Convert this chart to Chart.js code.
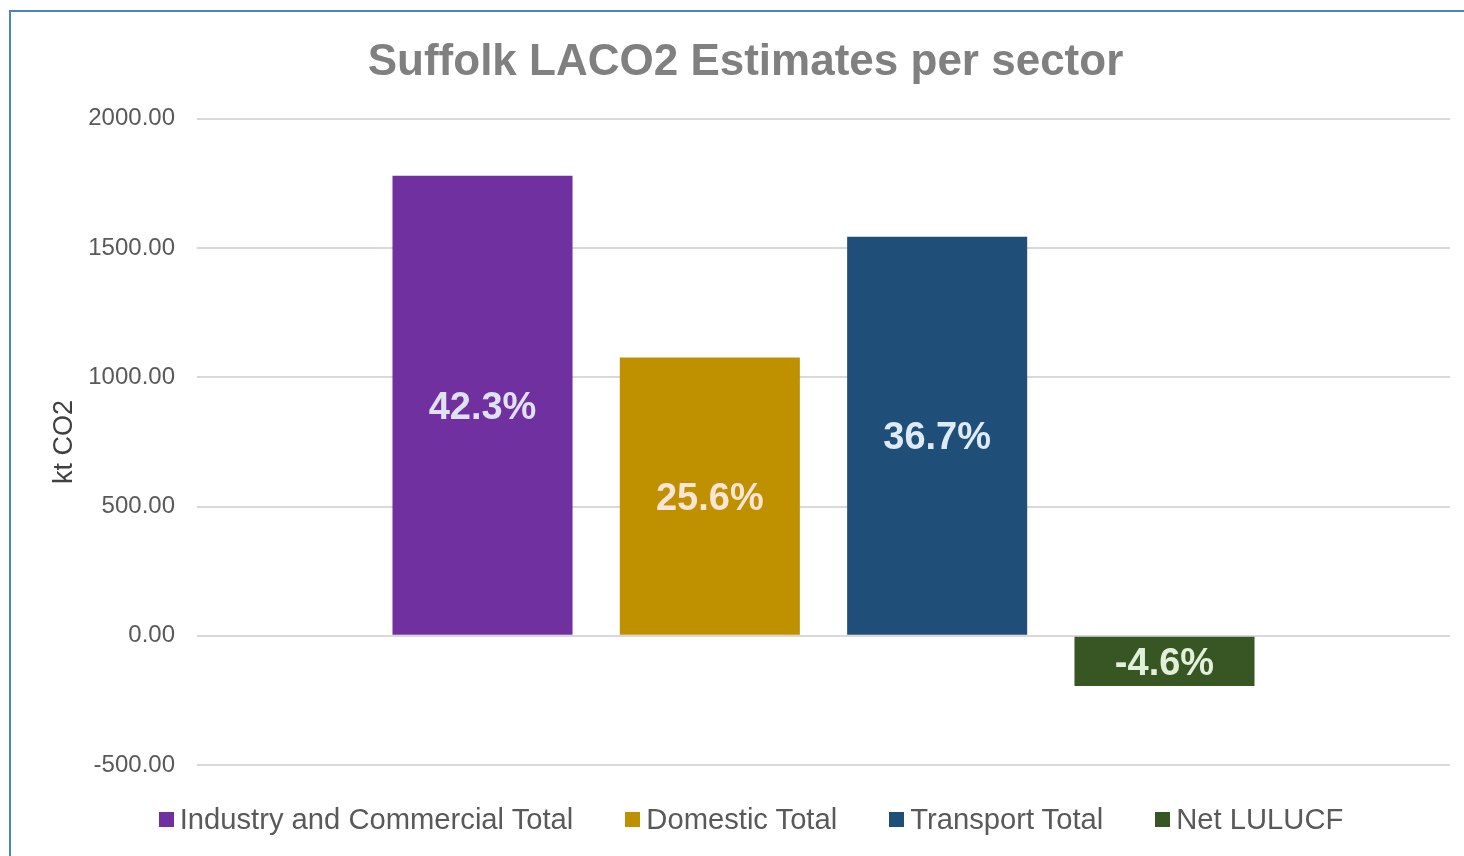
<!DOCTYPE html>
<html>
<head>
<meta charset="utf-8">
<title>Suffolk LACO2 Estimates per sector</title>
<script src="https://cdn.jsdelivr.net/npm/chart.js@4.4.1/dist/chart.umd.min.js"></script>
<style>
  html, body { margin: 0; padding: 0; background: #fff; overflow: hidden; }
  body { width: 1464px; height: 856px; position: relative; font-family: "Liberation Sans", Arial, sans-serif; }
  .frame { position: absolute; left: 9px; top: 10px; width: 1480px; height: 870px; border: 2px solid #4f81bd; box-sizing: border-box; }
  #wrap { position: absolute; left: 0; top: 0; width: 1464px; height: 856px; }
  #legend { position: absolute; left: 52px; right: 14px; top: 802px; display: flex; justify-content: center; font-size: 29.2px; line-height: 34px; color: #595959; }
  #legend .item { display: flex; align-items: center; margin: 0 26px; white-space: nowrap; }
  #legend .box { width: 15px; height: 15px; margin-right: 6px; }
</style>
</head>
<body>
<div class="frame"></div>
<div id="wrap"><canvas id="co2Chart" width="1464" height="856"></canvas></div>
<div id="legend"></div>

<script>
/*
-------------------------------------
/// data
-------------------------------------
*/
const categories = ['Suffolk'];
const sectorNames = ['Industry and Commercial Total', 'Domestic Total', 'Transport Total', 'Net LULUCF'];
const sectorValues = [1780, 1077, 1544, -194];   // kt CO2
const sectorColors = ['#7030a0', '#bf9000', '#1f4e79', '#375623'];
const labelColors = ['#e0e2f4', '#fbe5d6', '#deebf7', '#e2f0d9'];
const yTicks = [-500, 0, 500, 1000, 1500, 2000];

const total = sectorValues.reduce((a, b) => a + b, 0);

/*
-------------------------------------
/// share labels inside the bars
-------------------------------------
*/
const shareLabels = {
  id: 'shareLabels',
  afterDatasetsDraw(chart) {
    const ctx = chart.ctx;
    ctx.save();
    ctx.font = 'bold 38px "Liberation Sans", Arial, sans-serif';
    ctx.textAlign = 'center';
    ctx.textBaseline = 'middle';
    chart.data.datasets.forEach((ds, i) => {
      const bar = chart.getDatasetMeta(i).data[0];
      const pct = ds.data[0] / total * 100;
      ctx.fillStyle = labelColors[i];
      ctx.fillText(pct.toFixed(1) + '%', bar.x, (bar.y + bar.base) / 2 + 3);
    });
    ctx.restore();
  }
};

const ctx = document.getElementById('co2Chart').getContext('2d');
const co2Chart = new Chart(ctx, {
  type: 'bar',
  data: {
    labels: categories,
    datasets: sectorNames.map((name, i) => ({
      label: name,
      data: [sectorValues[i]],
      backgroundColor: sectorColors[i],
      categoryPercentage: 0.7257,
      barPercentage: 0.792
    }))
  },
  options: {
    responsive: false,
    animation: false,
    layout: { padding: { left: 41, right: 14, top: 0, bottom: 91 } },
    plugins: {
      legend: { display: false },
      tooltip: { enabled: false },
      title: {
        display: true,
        text: 'Suffolk LACO2 Estimates per sector',
        color: '#808080',
        font: { family: '"Liberation Sans", Arial, sans-serif', size: 44, weight: 'bold', lineHeight: 1.2 },
        padding: { top: 36, bottom: 30 }
      }
    },
    scales: {
      x: { display: false },
      y: {
        min: yTicks[0],
        max: yTicks[yTicks.length - 1],
        afterBuildTicks: scale => { scale.ticks = yTicks.map(v => ({ value: v })); },
        afterFit: scale => { scale.width = 156; },
        border: { display: false },
        grid: { color: '#d9d9d9', lineWidth: 2, drawTicks: false },
        ticks: {
          padding: 22,
          color: '#595959',
          font: { family: '"Liberation Sans", Arial, sans-serif', size: 24, lineHeight: 1.0 },
          callback: v => v.toFixed(2)
        },
        title: {
          display: true,
          text: 'kt CO2',
          color: '#404040',
          font: { family: '"Liberation Sans", Arial, sans-serif', size: 27 },
          padding: { top: 7, bottom: 0 }
        }
      }
    }
  },
  plugins: [shareLabels]
});

/*
-------------------------------------
/// legend
-------------------------------------
*/
const legendEl = document.getElementById('legend');
sectorNames.forEach((name, i) => {
  const item = document.createElement('div');
  item.className = 'item';
  item.innerHTML = '<span class="box" style="background:' + sectorColors[i] + '"></span><span>' + name + '</span>';
  legendEl.appendChild(item);
});
</script>
</body>
</html>
